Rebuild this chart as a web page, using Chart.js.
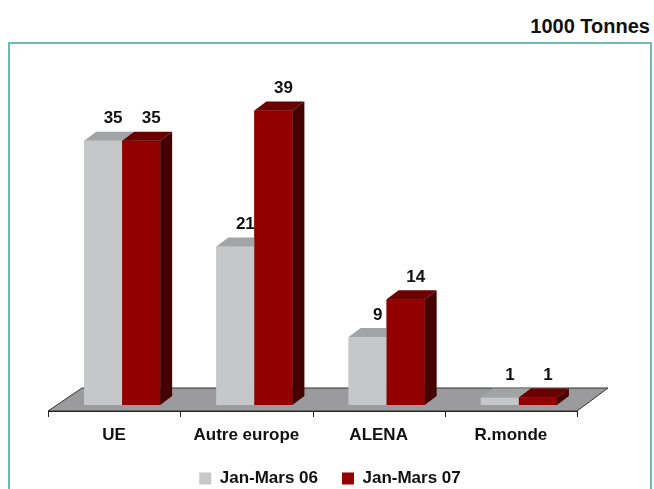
<!DOCTYPE html>
<html>
<head>
<meta charset="utf-8">
<script src="https://cdn.jsdelivr.net/npm/chart.js@4/dist/chart.umd.min.js"></script>
<style>
html,body{margin:0;padding:0;background:#fff;overflow:hidden}
#wrap{position:relative;width:654px;height:497px}
#ttl{position:absolute;right:4px;top:15px;font:bold 20px Arial,"Liberation Sans",sans-serif;color:#111}
#box{position:absolute;left:8px;top:42px;width:640px;height:470px;border:2px solid #6dbab6}
#cw{position:absolute;left:0;top:0;width:654px;height:497px}
</style>
</head>
<body>
<div id="wrap">
  <div id="ttl">1000 Tonnes</div>
  <div id="box"></div>
  <div id="cw"><canvas id="cv"></canvas></div>
</div>
<script>
// data
const categories=['UE','Autre europe','ALENA','R.monde'];
const seriesNames=['Jan-Mars 06','Jan-Mars 07'];
const vals06=[35,21,9,1];
const vals07=[35,39,14,1];
const yMax=40;

const F='Arial, "Liberation Sans", sans-serif';
Chart.defaults.font.family=F;

// 3d look: front colour comes from the dataset, top/side shades here
const DX=12,DY=9;
const shade=[{top:'#a3a4a6',side:'#8c8d8f'},{top:'#6b0000',side:'#470000'}];

const depth3d={
  id:'depth3d',
  afterLayout(c){
    // centre legend on the framed box rather than on the plot
    const lg=c.legend;if(lg){lg.left+=9.5;lg.right+=9.5}
  },
  beforeDatasetsDraw(c){
    const a=c.chartArea,ctx=c.ctx,y0=c.scales.y.getPixelForValue(0);
    const l=a.left-8,r=a.right-8,fy=y0+6,by=y0-17;
    ctx.save();
    ctx.beginPath();
    ctx.moveTo(l,fy);ctx.lineTo(r,fy);ctx.lineTo(r+31,by);ctx.lineTo(l+34,by);ctx.closePath();
    ctx.fillStyle='#9b9b9d';ctx.fill();
    ctx.strokeStyle='#333';ctx.lineWidth=1;ctx.stroke();
    // category axis with ticks under the floor
    const n=c.data.labels.length;
    ctx.beginPath();
    ctx.moveTo(l,fy+0.5);ctx.lineTo(r,fy+0.5);
    for(let i=0;i<=n;i++){const x=Math.round(l+(r-l)*i/n)+0.5;ctx.moveTo(x,fy);ctx.lineTo(x,fy+6)}
    ctx.strokeStyle='#222';ctx.stroke();
    ctx.restore();
  },
  afterDatasetsDraw(c){
    const ctx=c.ctx;
    ctx.save();
    // series in index order so the later bar's front hides the earlier bar's side
    c.data.datasets.forEach((ds,i)=>{
      const s=shade[i];
      c.getDatasetMeta(i).data.forEach(b=>{
        const L=b.x-b.width/2,R=b.x+b.width/2,T=b.y,B=b.base;
        ctx.fillStyle=ds.backgroundColor;ctx.fillRect(L,T,R-L,B-T);
        ctx.fillStyle=s.top;
        ctx.beginPath();ctx.moveTo(L,T);ctx.lineTo(R,T);ctx.lineTo(R+DX,T-DY);ctx.lineTo(L+DX,T-DY);ctx.closePath();ctx.fill();
        ctx.fillStyle=s.side;
        ctx.beginPath();ctx.moveTo(R,T);ctx.lineTo(R+DX,T-DY);ctx.lineTo(R+DX,B-DY);ctx.lineTo(R,B);ctx.closePath();ctx.fill();
      });
    });
    ctx.font='bold 17px '+F;ctx.fillStyle='#111';ctx.textAlign='center';ctx.textBaseline='middle';
    c.data.datasets.forEach((ds,i)=>{
      c.getDatasetMeta(i).data.forEach((b,j)=>{
        ctx.fillText(String(ds.data[j]),b.x+10,b.y-DY-13);
      });
    });
    ctx.restore();
  }
};

new Chart(document.getElementById('cv'),{
  type:'bar',
  data:{labels:categories,datasets:[
    {label:seriesNames[0],data:vals06,backgroundColor:'#c6c7c9',borderColor:'#c6c7c9',borderWidth:0},
    {label:seriesNames[1],data:vals07,backgroundColor:'#920000',borderColor:'#920000',borderWidth:0}
  ]},
  options:{
    responsive:true,maintainAspectRatio:false,animation:false,
    categoryPercentage:0.575,barPercentage:1,
    layout:{padding:{top:103,left:56,right:69,bottom:0}},
    plugins:{
      tooltip:{enabled:false},
      legend:{position:'bottom',labels:{boxWidth:12,boxHeight:12,padding:24,color:'#111',
        font:{size:17,weight:'bold'}}}
    },
    scales:{
      x:{grid:{display:false,drawTicks:false},border:{display:false},
        ticks:{font:{size:17,weight:'bold'},color:'#111',padding:20,labelOffset:-8,maxRotation:0,autoSkip:false},
        afterFit(s){s.height=41}},
      y:{display:false,min:0,max:yMax}
    }
  },
  plugins:[depth3d]
});
</script>
</body>
</html>
